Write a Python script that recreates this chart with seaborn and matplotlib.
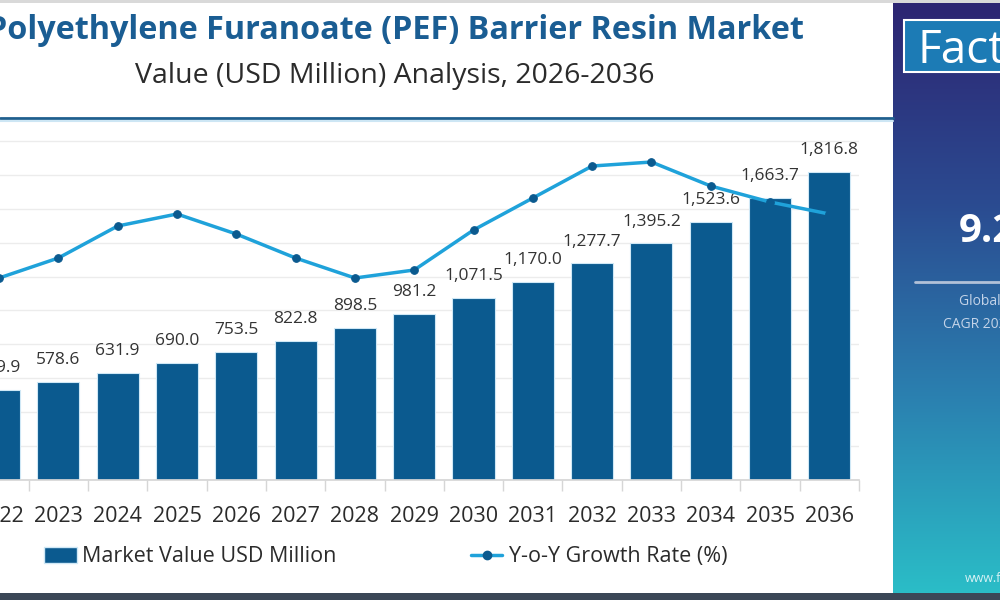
import numpy as np
import pandas as pd
import matplotlib.pyplot as plt
import seaborn as sns
from matplotlib.patches import Rectangle, Patch
from matplotlib.lines import Line2D
from matplotlib.colors import LinearSegmentedColormap

# Data
years = [str(y) for y in range(2022, 2037)]
market_value = [529.9, 578.6, 631.9, 690.0, 753.5, 822.8, 898.5, 981.2,
                1071.5, 1170.0, 1277.7, 1395.2, 1523.6, 1663.7, 1816.8]
yoy_growth = [9.09, 9.14, 9.22, 9.25, 9.20, 9.14, 9.09, 9.11,
              9.21, 9.29, 9.37, 9.38, 9.32, 9.28, 9.25]

title = "Polyethylene Furanoate (PEF) Barrier Resin Market"
subtitle = "Value (USD Million) Analysis, 2026-2036"
bar_label = "Market Value USD Million"
line_label = "Y-o-Y Growth Rate (%)"

df = pd.DataFrame({"year": years, "value": market_value, "growth": yoy_growth})

BAR = "#0b5a8f"
LINE = "#1fa2da"
TITLE = "#1a5d93"
TEXT = "#2b2b2b"

sns.set_theme(style="white")
plt.rcParams["font.family"] = ["Open Sans", "DejaVu Sans"]

fig = plt.figure(figsize=(10, 6), dpi=100)

# main axes (left part runs off the figure, like the cropped original)
ax = fig.add_axes([-0.0306, 0.2, 0.8896, 0.5933])
sns.barplot(data=df, x="year", y="value", color=BAR, width=0.71,
            edgecolor="#cfe8f6", linewidth=0.8, saturation=1, ax=ax)
ax.set_ylim(0, 2100)
ax.set_xlim(-0.5, 14.5)
ax.set_yticks(range(0, 2001, 200))
ax.yaxis.grid(True, color="#ececec", lw=1)
ax.set_axisbelow(True)
ax.tick_params(axis="y", left=False, labelleft=False)
ax.set_xticks(np.arange(-0.5, 15, 1), minor=True)
ax.tick_params(axis="x", which="major", length=0, pad=19, labelsize=15.5, labelcolor=TEXT)
ax.tick_params(axis="x", which="minor", bottom=True, length=8, color="#d6d6d6", width=1)
for s in ["top", "right", "left"]:
    ax.spines[s].set_visible(False)
ax.spines["bottom"].set_color("#d6d6d6")
ax.set_xlabel("")
ax.set_ylabel("")
ax.bar_label(ax.containers[0], labels=[f"{v:,.1f}" for v in market_value],
             padding=10, fontsize=12.5, color="#333333")

# growth line on a hidden twin axis
ax2 = ax.twinx()
sns.lineplot(x=np.arange(len(years)), y=yoy_growth, ax=ax2, color=LINE, lw=2.5,
             marker="o", markersize=5.5, markerfacecolor=BAR, markeredgecolor=BAR)
ax2.set_ylim(8.585, 9.475)
ax2.axis("off")

# title block
fig.text(0.395, 0.935, title, ha="center", va="baseline", fontsize=23.3,
         fontweight="bold", color=TITLE)
fig.text(0.395, 0.862, subtitle, ha="center", va="baseline", fontsize=20.5, color=TEXT)
fig.add_artist(Line2D([0, 0.893], [0.8033, 0.8033], color="#1f5f8e", lw=2))
fig.add_artist(Line2D([0, 0.893], [0.7985, 0.7985], color="#cde6f4", lw=1.5))

# legend
h1 = Patch(facecolor=BAR, edgecolor="#cfe8f6")
h2 = Line2D([0], [0], color=LINE, lw=2.5, marker="o", markersize=6,
            markerfacecolor=BAR, markeredgecolor=BAR)
fig.legend([h1], [bar_label], loc="center left", bbox_to_anchor=(0.044, 0.072),
           frameon=False, fontsize=15.5, handlelength=1.55, handleheight=0.75,
           handletextpad=0.2, borderpad=0, borderaxespad=0, labelcolor=TEXT)
fig.legend([h2], [line_label], loc="center left", bbox_to_anchor=(0.471, 0.072),
           frameon=False, fontsize=15.5, handlelength=1.45, handletextpad=0.3,
           borderpad=0, borderaxespad=0, labelcolor=TEXT)

# top / bottom strips
fig.add_artist(Rectangle((0, 0.995), 1, 0.005, transform=fig.transFigure,
                         color="#d9d9d9", lw=0))
fig.add_artist(Rectangle((0, 0), 1, 0.0117, transform=fig.transFigure,
                         color="#3b4757", lw=0))

# right side panel with gradient
pax = fig.add_axes([0.893, 0.0117, 0.107, 0.9833])
cmap = LinearSegmentedColormap.from_list(
    "panel", ["#2d2572", "#2b4a90", "#2a80b0", "#2bbdc7"])
grad = np.linspace(0, 1, 256).reshape(-1, 1)
pax.imshow(grad, aspect="auto", cmap=cmap, extent=[0, 1, 1, 0])
pax.axis("off")

fig.add_artist(Rectangle((0.904, 0.88), 0.11, 0.0867, transform=fig.transFigure,
                         facecolor="#1c7bb5", edgecolor="white", lw=1.5))
fig.text(0.917, 0.895, "Fact.MR", color="white", fontsize=33, va="baseline")
fig.text(0.959, 0.5967, "9.2%", color="white", fontsize=29, fontweight="bold",
         va="baseline")
fig.add_artist(Line2D([0.915, 1.0], [0.53, 0.53], color="#b2c1d8", lw=2))
fig.text(0.959, 0.497, "Global Market", color="#c3d3e8", fontsize=10, va="center")
fig.text(0.943, 0.46, "CAGR 2026-2036", color="#c3d3e8", fontsize=10, va="center")
fig.text(0.965, 0.035, "www.factmr.com", color="#d6f2f5", fontsize=9, va="center")

fig.savefig("out.png", dpi=100)
